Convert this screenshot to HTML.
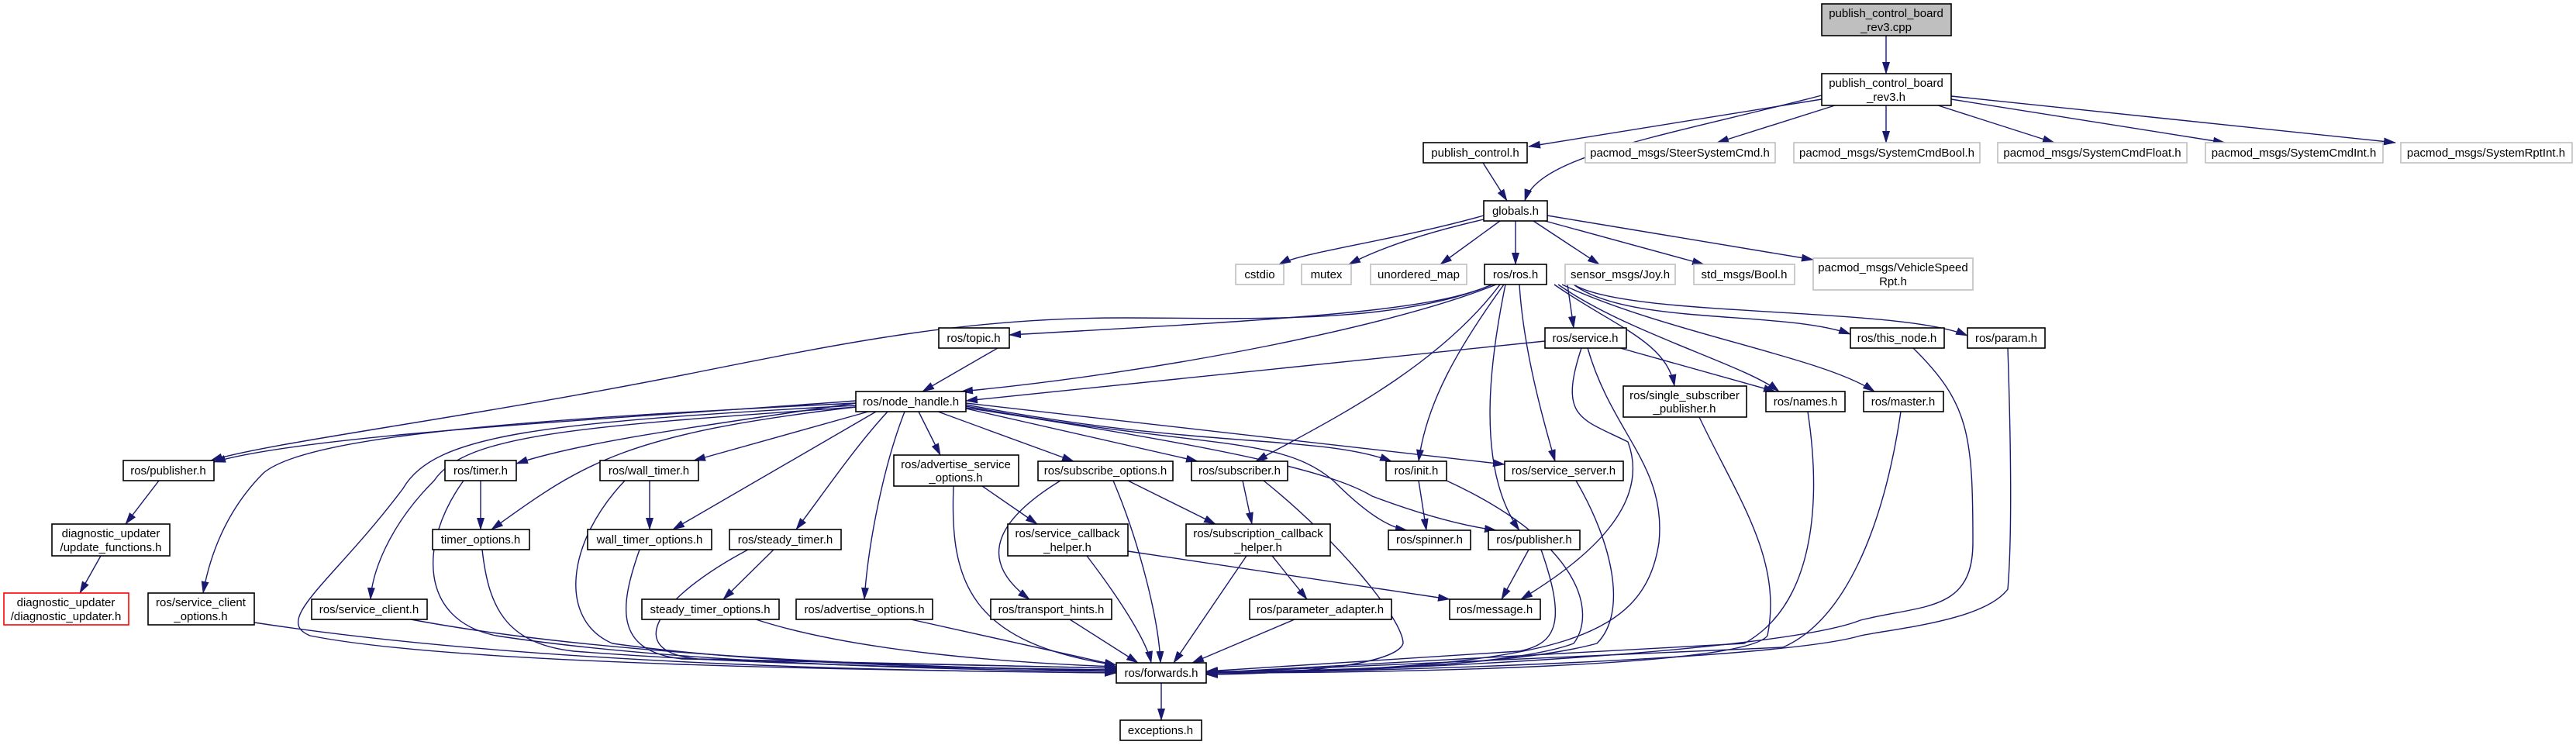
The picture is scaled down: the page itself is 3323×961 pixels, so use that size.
<!DOCTYPE html>
<html><head><meta charset="utf-8"><style>
html,body{margin:0;padding:0;background:#fff;}
svg{display:block;}
text{font-family:"Liberation Sans","DejaVu Sans",sans-serif;font-size:15px;fill:#000;text-anchor:middle;}
.b{fill:#fff;stroke:#000;stroke-width:1.6;}
.g{fill:#fff;stroke:#bfbfbf;stroke-width:1.6;}
.e{fill:none;stroke:#191970;stroke-width:1.4;}
</style></head><body>
<svg width="3323" height="961" viewBox="0 0 3323 961" xmlns="http://www.w3.org/2000/svg">
<defs><marker id="a" markerUnits="userSpaceOnUse" markerWidth="16" markerHeight="10" refX="15" refY="5" orient="auto"><path d="M0,0 L16,5 L0,10 z" fill="#191970"/></marker></defs>
<g class="e" marker-end="url(#a)">
<path d="M2433,46 L2433,95"/>
<path d="M2350,128 L1972,189"/>
<path d="M2350,123 C2150,175 1985,200 1967,259"/>
<path d="M2367,136 L2215,184"/>
<path d="M2433,136 L2433,184"/>
<path d="M2500,136 L2650,184"/>
<path d="M2517,128 L2870,184"/>
<path d="M2517,124 L3090,184"/>
<path d="M1913,210 L1944,259"/>
<path d="M1914,278 C1800,310 1680,325 1650,341"/>
<path d="M1914,283 C1840,300 1780,320 1740,341"/>
<path d="M1935,285 L1858,341"/>
<path d="M1955,285 L1955,341"/>
<path d="M1978,285 L2063,341"/>
<path d="M1993,285 L2198,341"/>
<path d="M1996,278 L2339,335"/>
<path d="M1925,367 C1800,420 1600,410 1450,410 C1250,410 1100,440 900,480 C600,540 350,570 272,594"/>
<path d="M1925,367 C1850,400 1700,410 1302,432"/>
<path d="M1930,367 C1800,420 1500,480 1240,505"/>
<path d="M2022,367 L2030,423"/>
<path d="M2030,367 C2100,420 2300,400 2387,431"/>
<path d="M2030,367 C2100,410 2450,395 2538,433"/>
<path d="M2005,367 C2080,420 2150,440 2160,498"/>
<path d="M2010,367 C2100,430 2250,470 2295,505"/>
<path d="M2015,367 C2150,430 2350,460 2418,505"/>
<path d="M1935,367 C1850,480 1700,550 1620,595"/>
<path d="M1940,367 C1880,450 1840,520 1830,595"/>
<path d="M1942,367 C1925,450 1900,600 1960,684"/>
<path d="M1960,367 C1965,450 1990,540 2006,595"/>
<path d="M1993,440 L1246,517"/>
<path d="M2090,449 L2290,505"/>
<path d="M2040,449 C2010,540 2040,540 2100,570 C2130,650 2050,720 1962,773"/>
<path d="M2048,449 C2080,560 2150,600 2140,700 C2120,830 2000,860 1556,870"/>
<path d="M1287,449 L1190,505"/>
<path d="M1104,517 C800,540 400,560 276,596"/>
<path d="M1104,520 C700,540 400,560 340,610 C290,660 270,720 262,765"/>
<path d="M1104,523 C700,545 560,560 520,630 C430,750 350,800 400,820 C600,860 1200,865 1440,868"/>
<path d="M1104,525 C750,550 600,560 560,620 C500,680 480,740 478,773"/>
<path d="M1104,520 C900,550 750,570 666,598"/>
<path d="M1104,525 C800,560 750,600 634,683"/>
<path d="M1120,531 L895,594"/>
<path d="M1130,531 L868,683"/>
<path d="M1145,531 C1100,580 1060,640 1027,683"/>
<path d="M1167,531 C1140,600 1120,700 1115,773"/>
<path d="M1185,531 L1213,587"/>
<path d="M1210,531 L1385,595"/>
<path d="M1246,527 L1545,595"/>
<path d="M1246,522 C1550,580 1700,560 1795,595"/>
<path d="M1246,524 C1550,580 1650,560 1720,620 C1760,660 1790,680 1815,684"/>
<path d="M1246,526 C1600,580 1720,610 1770,640 C1850,670 1900,680 1930,684"/>
<path d="M1246,520 L1941,599"/>
<path d="M205,620 L162,676"/>
<path d="M130,717 L103,765"/>
<path d="M328,803 C700,860 1200,866 1440,868"/>
<path d="M530,799 C800,850 1200,860 1440,866"/>
<path d="M620,620 L620,683"/>
<path d="M598,620 C540,700 540,800 640,820 C900,860 1300,865 1440,866"/>
<path d="M622,709 C630,780 650,830 740,840 C1000,860 1300,863 1440,864"/>
<path d="M838,620 L838,683"/>
<path d="M806,620 C730,700 720,800 790,830 C1000,860 1300,862 1440,864"/>
<path d="M825,709 C800,780 790,840 880,850 L1440,862"/>
<path d="M998,709 L933,773"/>
<path d="M965,709 C850,770 800,840 900,850 L1440,862"/>
<path d="M975,799 C1100,840 1300,855 1440,860"/>
<path d="M1175,799 L1440,858"/>
<path d="M1230,627 C1225,750 1250,830 1440,858"/>
<path d="M1267,627 L1338,676"/>
<path d="M1368,620 C1270,680 1270,730 1328,773"/>
<path d="M1436,620 C1470,700 1495,800 1497,855"/>
<path d="M1455,620 L1568,676"/>
<path d="M1603,620 L1615,676"/>
<path d="M1630,620 C1730,700 1810,800 1810,830 C1800,860 1650,870 1556,870"/>
<path d="M1455,711 L1870,773"/>
<path d="M1402,717 C1450,780 1480,830 1485,855"/>
<path d="M1641,717 L1686,773"/>
<path d="M1608,717 L1514,855"/>
<path d="M1380,799 L1468,855"/>
<path d="M1670,799 L1538,855"/>
<path d="M1830,620 L1840,684"/>
<path d="M1866,620 C2040,700 2060,790 2030,830 C1950,860 1700,868 1556,868"/>
<path d="M1972,709 L1937,773"/>
<path d="M1988,709 C2020,800 2010,830 1960,840 L1556,866"/>
<path d="M2033,620 C2080,700 2100,790 2060,830 C1950,860 1700,866 1556,866"/>
<path d="M2192,538 C2240,640 2300,720 2280,820 C2250,860 1800,868 1556,868"/>
<path d="M2332,531 C2350,650 2340,780 2250,830 L1556,868"/>
<path d="M2452,531 C2430,680 2380,800 2300,835 L1556,868"/>
<path d="M2468,449 C2540,520 2545,560 2545,700 C2545,790 2480,780 2400,800 C2300,840 1800,866 1556,868"/>
<path d="M2590,449 C2595,600 2595,700 2590,760 C2560,800 2450,810 2400,820 C2300,850 1800,866 1556,868"/>
<path d="M1498,881 L1498,929"/>
</g>
<!-- nodes -->
<rect x="2350" y="5" width="167" height="41" fill="#bfbfbf" stroke="#000" stroke-width="1.6"/>
<text x="2433" y="22">publish_control_board</text><text x="2433" y="40">_rev3.cpp</text>
<rect class="b" x="2350" y="95" width="167" height="41"/>
<text x="2433" y="112">publish_control_board</text><text x="2433" y="130">_rev3.h</text>
<rect class="b" x="1836" y="184" width="134" height="26"/><text x="1903" y="202">publish_control.h</text>
<rect class="g" x="2045" y="184" width="245" height="26"/><text x="2167" y="202">pacmod_msgs/SteerSystemCmd.h</text>
<rect class="g" x="2314" y="184" width="240" height="26"/><text x="2434" y="202">pacmod_msgs/SystemCmdBool.h</text>
<rect class="g" x="2577" y="184" width="244" height="26"/><text x="2699" y="202">pacmod_msgs/SystemCmdFloat.h</text>
<rect class="g" x="2845" y="184" width="229" height="26"/><text x="2959" y="202">pacmod_msgs/SystemCmdInt.h</text>
<rect class="g" x="3097" y="184" width="221" height="26"/><text x="3207" y="202">pacmod_msgs/SystemRptInt.h</text>
<rect class="b" x="1914" y="259" width="82" height="26"/><text x="1955" y="277">globals.h</text>
<rect class="g" x="1594" y="341" width="62" height="26"/><text x="1625" y="359">cstdio</text>
<rect class="g" x="1679" y="341" width="64" height="26"/><text x="1711" y="359">mutex</text>
<rect class="g" x="1768" y="341" width="124" height="26"/><text x="1830" y="359">unordered_map</text>
<rect class="b" x="1915" y="341" width="80" height="26"/><text x="1955" y="359">ros/ros.h</text>
<rect class="g" x="2019" y="341" width="142" height="26"/><text x="2090" y="359">sensor_msgs/Joy.h</text>
<rect class="g" x="2185" y="341" width="130" height="26"/><text x="2250" y="359">std_msgs/Bool.h</text>
<rect class="g" x="2339" y="333" width="206" height="41"/><text x="2442" y="350">pacmod_msgs/VehicleSpeed</text><text x="2442" y="368">Rpt.h</text>
<rect class="b" x="1211" y="423" width="91" height="26"/><text x="1256" y="441">ros/topic.h</text>
<rect class="b" x="1993" y="423" width="105" height="26"/><text x="2045" y="441">ros/service.h</text>
<rect class="b" x="2387" y="423" width="121" height="26"/><text x="2447" y="441">ros/this_node.h</text>
<rect class="b" x="2538" y="423" width="100" height="26"/><text x="2588" y="441">ros/param.h</text>
<rect class="b" x="1104" y="505" width="142" height="26"/><text x="1175" y="523">ros/node_handle.h</text>
<rect class="b" x="2094" y="498" width="159" height="40"/><text x="2173" y="515">ros/single_subscriber</text><text x="2173" y="532">_publisher.h</text>
<rect class="b" x="2278" y="505" width="102" height="26"/><text x="2329" y="523">ros/names.h</text>
<rect class="b" x="2404" y="505" width="103" height="26"/><text x="2455" y="523">ros/master.h</text>
<rect class="b" x="159" y="594" width="117" height="26"/><text x="217" y="612">ros/publisher.h</text>
<rect class="b" x="574" y="594" width="92" height="26"/><text x="620" y="612">ros/timer.h</text>
<rect class="b" x="774" y="594" width="127" height="26"/><text x="837" y="612">ros/wall_timer.h</text>
<rect class="b" x="1153" y="587" width="161" height="40"/><text x="1233" y="604">ros/advertise_service</text><text x="1233" y="621">_options.h</text>
<rect class="b" x="1339" y="595" width="174" height="25"/><text x="1426" y="612">ros/subscribe_options.h</text>
<rect class="b" x="1537" y="595" width="124" height="25"/><text x="1599" y="612">ros/subscriber.h</text>
<rect class="b" x="1788" y="595" width="78" height="25"/><text x="1827" y="612">ros/init.h</text>
<rect class="b" x="1941" y="595" width="153" height="25"/><text x="2017" y="612">ros/service_server.h</text>
<rect class="b" x="67" y="676" width="152" height="41"/><text x="143" y="693">diagnostic_updater</text><text x="143" y="711">/update_functions.h</text>
<rect class="b" x="558" y="683" width="125" height="26"/><text x="620" y="701">timer_options.h</text>
<rect class="b" x="758" y="683" width="160" height="26"/><text x="838" y="701">wall_timer_options.h</text>
<rect class="b" x="941" y="683" width="144" height="26"/><text x="1013" y="701">ros/steady_timer.h</text>
<rect class="b" x="1300" y="676" width="155" height="41"/><text x="1377" y="693">ros/service_callback</text><text x="1377" y="711">_helper.h</text>
<rect class="b" x="1530" y="676" width="186" height="41"/><text x="1623" y="693">ros/subscription_callback</text><text x="1623" y="711">_helper.h</text>
<rect class="b" x="1791" y="684" width="106" height="25"/><text x="1844" y="701">ros/spinner.h</text>
<rect class="b" x="1920" y="684" width="118" height="25"/><text x="1979" y="701">ros/publisher.h</text>
<rect x="5" y="765" width="161" height="41" fill="#fff" stroke="#ff0000" stroke-width="1.6"/><text x="85" y="782">diagnostic_updater</text><text x="85" y="800">/diagnostic_updater.h</text>
<rect class="b" x="191" y="765" width="137" height="41"/><text x="259" y="782">ros/service_client</text><text x="259" y="800">_options.h</text>
<rect class="b" x="402" y="773" width="149" height="26"/><text x="476" y="791">ros/service_client.h</text>
<rect class="b" x="828" y="773" width="177" height="26"/><text x="916" y="791">steady_timer_options.h</text>
<rect class="b" x="1027" y="773" width="176" height="26"/><text x="1115" y="791">ros/advertise_options.h</text>
<rect class="b" x="1278" y="773" width="156" height="26"/><text x="1356" y="791">ros/transport_hints.h</text>
<rect class="b" x="1612" y="773" width="183" height="26"/><text x="1703" y="791">ros/parameter_adapter.h</text>
<rect class="b" x="1870" y="773" width="117" height="26"/><text x="1928" y="791">ros/message.h</text>
<rect class="b" x="1440" y="855" width="116" height="26"/><text x="1498" y="873">ros/forwards.h</text>
<rect class="b" x="1445" y="929" width="105" height="26"/><text x="1497" y="947">exceptions.h</text>
</svg>
</body></html>
